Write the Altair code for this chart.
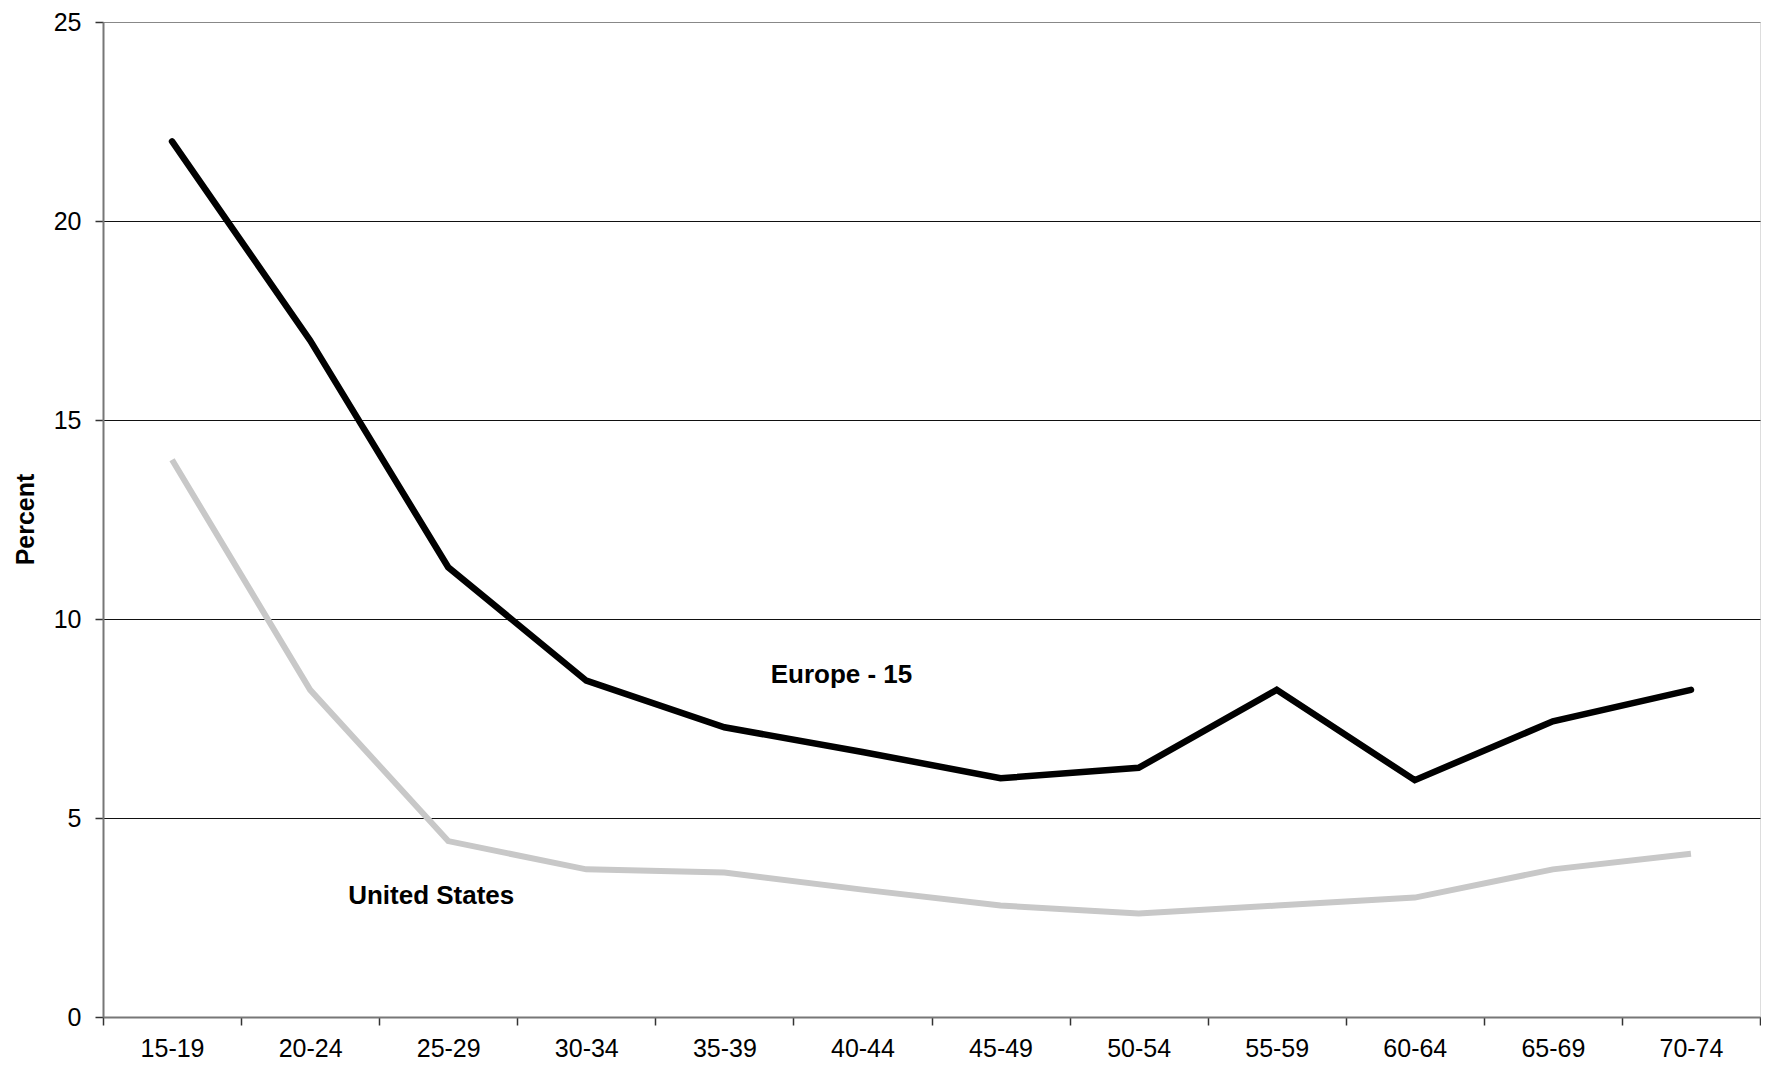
import altair as alt
import pandas as pd

age_groups = ["15-19", "20-24", "25-29", "30-34", "35-39", "40-44",
              "45-49", "50-54", "55-59", "60-64", "65-69", "70-74"]
europe_15 = [22.0, 17.0, 11.3, 8.45, 7.28, 6.66, 6.0, 6.26, 8.22, 5.95, 7.43, 8.22]
united_states = [14.0, 8.22, 4.42, 3.71, 3.63, 3.2, 2.8, 2.6, 2.8, 3.0, 3.71, 4.1]

label_text = ["Europe - 15", "United States"]
label_group = ["40-44", "25-29"]
label_value = [8.6, 3.05]

y_ticks = [0, 5, 10, 15, 20, 25]

eu_df = pd.DataFrame({"age": age_groups, "pct": europe_15})
us_df = pd.DataFrame({"age": age_groups, "pct": united_states})
lab_df = pd.DataFrame({"label": label_text, "age": label_group, "pct": label_value})

FONT = "Liberation Sans"

x_enc = alt.X("age:N", sort=age_groups, title=None,
              scale=alt.Scale(domain=age_groups, paddingInner=0, paddingOuter=0),
              axis=alt.Axis(labelAngle=0, tickBand="extent", tickSize=8,
                            labelPadding=11, labelFontSize=25, labelFont=FONT,
                            labelColor="black", tickColor="#333", tickWidth=1.5,
                            domainColor="#777", domainWidth=2, grid=False))
y_enc = alt.Y("pct:Q", title="Percent",
              scale=alt.Scale(domain=[0, 25], nice=False),
              axis=alt.Axis(values=y_ticks, tickSize=8, labelPadding=14,
                            labelFontSize=25, labelFont=FONT, labelColor="black",
                            tickColor="#333", tickWidth=1.5,
                            domainColor="#777", domainWidth=2,
                            grid=True,
                            gridColor={"condition": {"test": "datum.value === 25", "value": "#888"},
                                       "value": "#111"},
                            gridWidth=1.2,
                            titleFont=FONT, titleFontSize=25, titleFontWeight="bold",
                            titleColor="black", titleAngle=270, titleX=-78,
                            titleY=497, titleBaseline="middle", titleAlign="center"))

us_line = alt.Chart(us_df).mark_line(color="#c8c8c8", strokeWidth=6,
                                     strokeCap="butt", strokeJoin="miter").encode(
    x=x_enc, y=y_enc)
eu_line = alt.Chart(eu_df).mark_line(color="black", strokeWidth=6.5,
                                     strokeCap="round", strokeJoin="miter").encode(
    x=x_enc, y=y_enc)

eu_lab = alt.Chart(lab_df.iloc[[0]]).mark_text(
    font=FONT, fontSize=26, fontWeight="bold", color="black",
    align="center", baseline="middle", dx=-21).encode(
    x=alt.X("age:N", sort=age_groups), y="pct:Q", text="label:N")
us_lab = alt.Chart(lab_df.iloc[[1]]).mark_text(
    font=FONT, fontSize=26, fontWeight="bold", color="black",
    align="center", baseline="middle", dx=-17).encode(
    x=alt.X("age:N", sort=age_groups), y="pct:Q", text="label:N")

chart = alt.layer(us_line, eu_line, eu_lab, us_lab).properties(
    width=1657, height=995,
    autosize=alt.AutoSizeParams(type="none"),
    padding={"left": 95, "top": 14, "right": 1, "bottom": 45},
).configure_view(stroke="#888", strokeWidth=1.5).configure(background="white")

chart.save("out.html", embed_options={"renderer": "svg", "actions": False})
